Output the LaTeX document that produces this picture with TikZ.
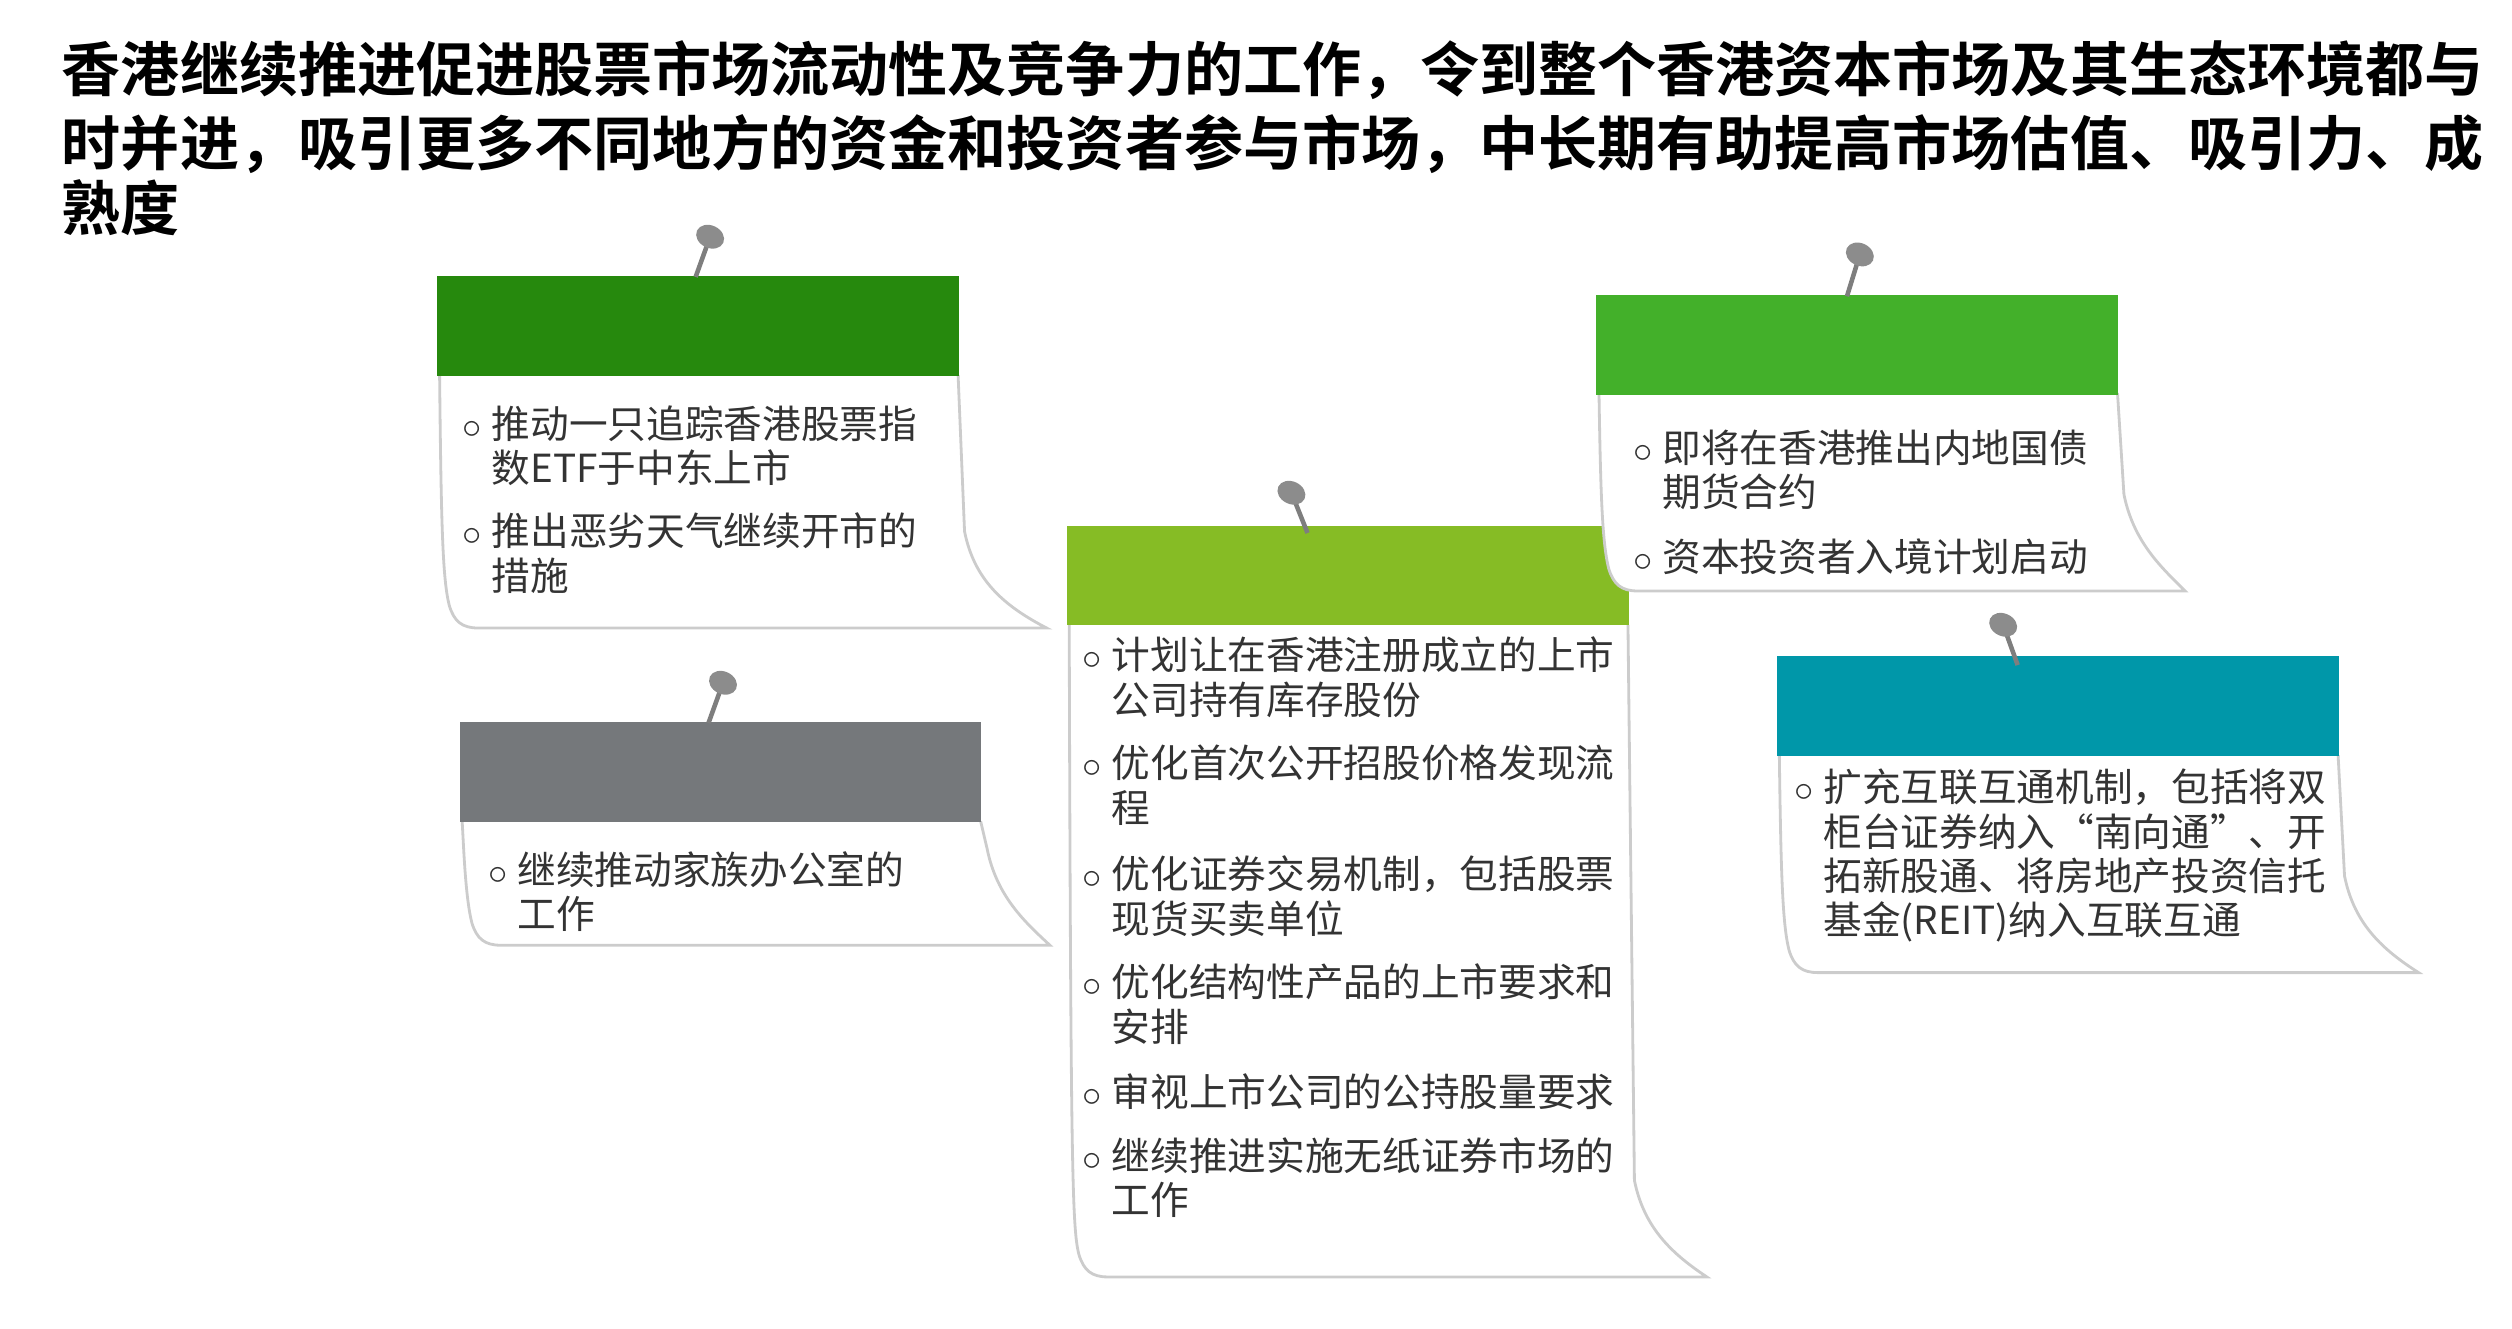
\documentclass[tikz,border=0pt]{standalone}
\usepackage{fontspec}
\setmainfont{Noto Sans CJK SC}
\newfontfamily\titlefont{Noto Sans CJK SC Bold}
\definecolor{darkgreen}{HTML}{26890D}
\definecolor{slategray}{HTML}{75787B}
\definecolor{limegreen}{HTML}{86BC25}
\definecolor{midgreen}{HTML}{43B02A}
\definecolor{tealblue}{HTML}{0097A9}
\definecolor{pingray}{HTML}{8C8C8C}

% body of a note: left, bar bottom, right, body bottom, curl tip
\newcommand{\notebody}[5]{%
  \draw[notebody] (#1,#2) .. controls (#1+1,#4-60) and (#1+2,#4-30) .. (#1+6,#4-14)
    .. controls (#1+9,#4-4) and (#1+14,#4) .. (#1+24,#4) -- (#5,#4)
    .. controls (#3+28,#4-14) and (#3+10,#4-30) .. (#3+4,#4-60) -- (#3,#2);}
% pin: head, point
\newcommand{\pin}[4]{%
  \draw[pingray!90!black, line width=1.3pt] (#1,#2) -- (#3,#4);
  \fill[pingray] (#1,#2) ellipse [x radius=9, y radius=7, rotate=-25];}
% one bullet item: bullet x, baseline y, width, text
\newcommand{\noteitem}[4]{%
  \node[item] at (#1,#2) {$\circ$};
  \node[item, text width=#3*0.0161cm] at (#1+18,#2) {#4};}

\begin{document}
\begin{tikzpicture}[x=0.0161cm, y=-0.0161cm,
    notebody/.style={fill=white, draw=gray!40, line width=0.8pt},
    bar/.style={minimum height=62*0.0161cm, inner sep=0pt, anchor=north west},
    item/.style={anchor=base west, inner sep=0pt, text=black!80,
      font=\fontsize{11}{12.6}\selectfont, align=left},
    heading/.style={anchor=base west, inner sep=0pt,
      font=\titlefont\fontsize{16.8}{20}\selectfont}]
  \useasboundingbox (0,0) rectangle (1560,825);

  % Title
  \node[heading] (t1) at (38,57) {香港继续推进促进股票市场流动性及竞争力的工作，令到整个香港资本市场及其生态环境都与};
  \node[heading] (t2) at (38,103) {时并进，吸引更多不同地方的资金和投资者参与市场，中长期有助提高市场估值、吸引力、成};
  \node[heading] (t3) at (38,143) {熟度};

  % Note 1
  \notebody{273}{233}{595}{390}{650}
  \node[bar, fill=darkgreen, minimum width=324*0.0161cm] (bar1) at (271,171) {};
  \pin{441}{147}{432}{172}
  \noteitem{287}{272}{265}{推动一只追踪香港股票指\\数ETF于中东上市}
  \noteitem{287}{339}{265}{推出恶劣天气继续开市的\\措施}

  % Note 2
  \notebody{287}{510}{609}{587}{652}
  \node[bar, fill=slategray, minimum width=324*0.0161cm] (bar2) at (285,448) {};
  \pin{449}{424}{440}{449}
  \noteitem{303}{549}{265}{继续推动家族办公室的\\工作}

  % Note 3
  \notebody{664}{388}{1011}{793}{1060}
  \node[bar, fill=limegreen, minimum width=349*0.0161cm] (bar3) at (662,326) {};
  \pin{802}{306}{812}{331}
  \noteitem{672}{416}{320}{计划让在香港注册成立的上市\\公司持有库存股份}
  \noteitem{672}{483}{320}{优化首次公开招股价格发现流\\程}
  \noteitem{672}{552}{320}{优化证券交易机制，包括股票\\现货买卖单位}
  \noteitem{672}{619}{320}{优化结构性产品的上市要求和\\安排}
  \noteitem{672}{687}{320}{审视上市公司的公持股量要求}
  \noteitem{672}{727}{320}{继续推进实施无纸证券市场的\\工作}

  % Note 4
  \notebody{993}{244}{1315}{367}{1357}
  \node[bar, fill=midgreen, minimum width=324*0.0161cm] (bar4) at (991,183) {};
  \pin{1155}{158}{1147}{184}
  \noteitem{1014}{287}{270}{即将在香港推出内地国债\\期货合约}
  \noteitem{1014}{355}{270}{资本投资者入境计划启动}

  % Note 5
  \notebody{1105}{469}{1452}{604}{1502}
  \node[bar, fill=tealblue, minimum width=349*0.0161cm] (bar5) at (1103,407) {};
  \pin{1244}{388}{1253}{413}
  \noteitem{1114}{498}{320}{扩充互联互通机制，包括将双\\柜台证券纳入“南向通”、开\\拓新股通、将房地产投资信托\\基金(REIT)纳入互联互通}
\end{tikzpicture}
\end{document}
